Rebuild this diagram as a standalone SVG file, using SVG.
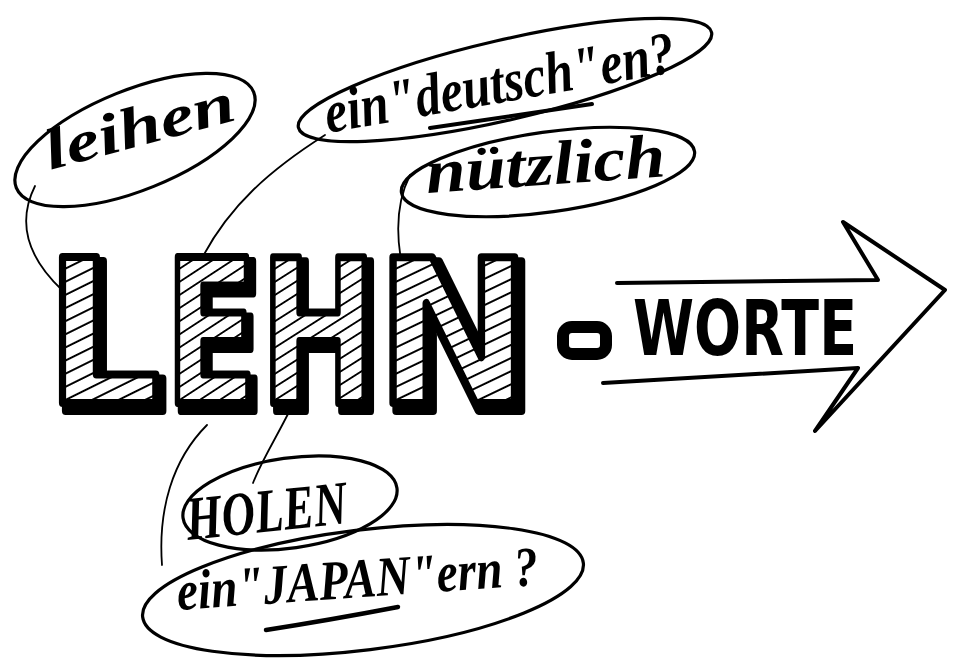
<svg xmlns="http://www.w3.org/2000/svg" width="953" height="659" viewBox="0 0 953 659">
<defs>
<pattern id="hatch" patternUnits="userSpaceOnUse" width="12" height="12" patternTransform="rotate(-24)">
<rect width="12" height="12" fill="#fff"/>
<line x1="0" y1="6" x2="12" y2="6" stroke="#000" stroke-width="2"/>
</pattern>
<filter id="shadow" x="-10%" y="-10%" width="130%" height="130%">
<feMorphology in="SourceAlpha" operator="dilate" radius="2" result="d"/>
<feOffset in="d" dx="5" dy="6" result="o"/>
<feFlood flood-color="#000"/>
<feComposite in2="o" operator="in" result="s"/>
<feMerge><feMergeNode in="s"/><feMergeNode in="SourceGraphic"/></feMerge>
</filter>
</defs>
<style>
.bub{fill:none;stroke:#000;stroke-width:3.2;stroke-linecap:round}
.con{fill:none;stroke:#000;stroke-width:1.8;stroke-linecap:round}
.hand{font-family:"Liberation Serif",serif;font-style:italic;font-weight:bold;fill:#000}
.big{font-family:"DejaVu Sans",sans-serif;font-weight:bold;font-size:200px;fill:url(#hatch);stroke:#000;stroke-width:8;stroke-linejoin:round}
</style>
<rect width="953" height="659" fill="#fff"/>

<g id="connectors">
<path class="con" d="M35,186 C18,220 25,255 62,290"/>
<path class="con" d="M325,135 C270,170 230,205 202,258"/>
<path class="con" d="M410,175 C395,205 392,245 413,305"/>
<path class="con" d="M207,425 C172,460 158,510 162,565"/>
<path class="con" d="M290,410 C275,440 262,460 253,483"/>
</g>

<g id="leihen">
<ellipse class="bub" cx="135" cy="140" rx="128" ry="50" transform="rotate(-22 135 140)" stroke-dasharray="700 40"/>
<text class="hand" font-size="58" textLength="195" lengthAdjust="spacingAndGlyphs" transform="translate(50,170) rotate(-15)">leihen</text>
</g>

<g id="deutschen">
<ellipse class="bub" cx="505" cy="80" rx="212" ry="40" transform="rotate(-13 505 80)"/>
<text class="hand" font-size="60" textLength="355" lengthAdjust="spacingAndGlyphs" transform="translate(328,133) rotate(-10)">ein"deutsch"en?</text>
<path d="M430,128 Q510,116 592,104" fill="none" stroke="#000" stroke-width="4" stroke-linecap="round"/>
</g>

<g id="nuetzlich">
<ellipse class="bub" cx="548" cy="172" rx="148" ry="40" transform="rotate(-8 548 172)"/>
<text class="hand" font-size="62" textLength="240" lengthAdjust="spacingAndGlyphs" transform="translate(427,193) rotate(-4)">nützlich</text>
</g>

<g id="lehn" filter="url(#shadow)">
<text class="big" transform="translate(46,403) scale(0.9,1)">L</text>
<text class="big" transform="translate(165,403) scale(0.68,1)">E</text>
<text class="big" transform="translate(260,403) scale(0.7,1)">H</text>
<text class="big" transform="translate(376,403) scale(0.93,1)">N</text>
</g>

<g id="worte">
<rect x="563" y="327" width="43" height="27" rx="9" fill="none" stroke="#000" stroke-width="12"/>
<text x="633" y="355" font-family="DejaVu Sans, sans-serif" font-weight="bold" font-size="76" textLength="224" lengthAdjust="spacingAndGlyphs">WORTE</text>
<path d="M617,283 L878,280 L843,222 L945,290 L815,431 L858,368 L603,383" fill="none" stroke="#000" stroke-width="4" stroke-linejoin="round" stroke-linecap="round"/>
</g>

<g id="holen">
<ellipse class="bub" cx="290" cy="503" rx="108" ry="45" transform="rotate(-8 290 503)"/>
<text class="hand" font-size="62" textLength="162" lengthAdjust="spacingAndGlyphs" transform="translate(188,540) rotate(-6)" font-style="normal">HOLEN</text>
</g>

<g id="japanern">
<ellipse class="bub" cx="363" cy="590" rx="222" ry="60" transform="rotate(-7 363 590)"/>
<text class="hand" font-size="56" textLength="362" lengthAdjust="spacingAndGlyphs" transform="translate(178,610) rotate(-4)">ein"JAPAN"ern ?</text>
<path d="M266,630 Q330,620 398,607" fill="none" stroke="#000" stroke-width="4.5" stroke-linecap="round"/>
</g>
</svg>
